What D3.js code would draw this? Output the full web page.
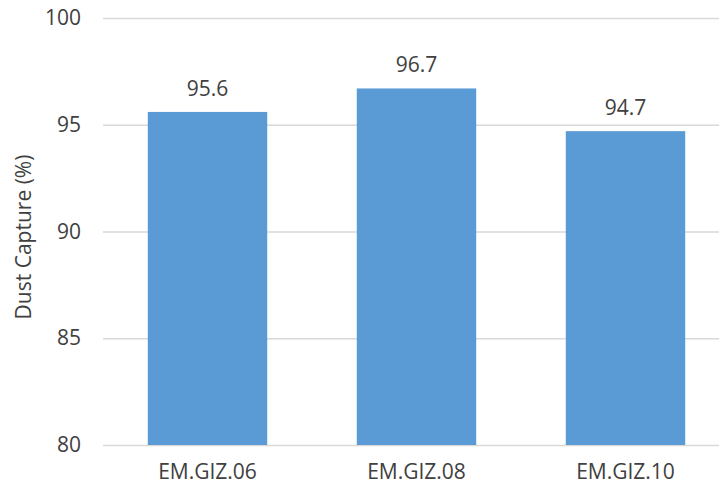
<!DOCTYPE html>
<html>
<head>
<meta charset="utf-8">
<script src="https://cdn.jsdelivr.net/npm/d3@7"></script>
<style>
  html, body { margin: 0; padding: 0; background: #fff; }
  svg { display: block; }
  text { font-family: "Open Sans", sans-serif; fill: #404040; }
</style>
</head>
<body>
<svg id="chart" width="719" height="489"></svg>
<script>
// Dust capture per emitter model
const categories = ["EM.GIZ.06", "EM.GIZ.08", "EM.GIZ.10"];
const values = [95.6, 96.7, 94.7];
const yTicks = [80, 85, 90, 95, 100];
const yTitle = "Dust Capture (%)";

const svg = d3.select("#chart");
const plot = { left: 103, right: 730, top: 18, bottom: 445 };
const fontSize = 21;

const x = d3.scaleBand()
  .domain(categories)
  .range([plot.left, plot.right])
  .paddingInner(0.4286)
  .paddingOuter(0.2143);

const y = d3.scaleLinear()
  .domain([80, 100])
  .range([plot.bottom, plot.top]);

// Horizontal gridlines with tick labels
const yAxis = d3.axisLeft(y)
  .tickValues(yTicks)
  .tickSize(-(plot.right - plot.left))
  .tickPadding(22)
  .tickFormat(d3.format("d"));

const gy = svg.append("g")
  .attr("transform", `translate(${plot.left},0)`)
  .call(yAxis);
gy.select(".domain").remove();
gy.selectAll(".tick line").attr("stroke", "#d9d9d9").attr("stroke-width", 1.5);
gy.selectAll(".tick text")
  .attr("font-size", fontSize)
  .attr("fill", "#404040")
  .style("font-family", "'Open Sans', sans-serif");

// Bars
svg.append("g").selectAll("rect")
  .data(values)
  .join("rect")
  .attr("x", (d, i) => x(categories[i]))
  .attr("width", x.bandwidth())
  .attr("y", d => y(d))
  .attr("height", d => y(80) - y(d))
  .attr("fill", "#5b9bd5");

// Value labels
svg.append("g").selectAll("text")
  .data(values)
  .join("text")
  .attr("x", (d, i) => x(categories[i]) + x.bandwidth() / 2)
  .attr("y", d => y(d) - 16)
  .attr("text-anchor", "middle")
  .attr("font-size", fontSize)
  .text(d => d3.format(".1f")(d));

// Category axis labels
const xAxis = d3.axisBottom(x).tickSize(0).tickPadding(19);
const gx = svg.append("g")
  .attr("transform", `translate(0,${plot.bottom})`)
  .call(xAxis);
gx.select(".domain").remove();
gx.selectAll(".tick text")
  .attr("font-size", fontSize)
  .attr("fill", "#404040")
  .style("font-family", "'Open Sans', sans-serif");

// Y axis title
svg.append("text")
  .attr("transform", `translate(31,237) rotate(-90)`)
  .attr("text-anchor", "middle")
  .attr("font-size", fontSize)
  .text(yTitle);
</script>
</body>
</html>
